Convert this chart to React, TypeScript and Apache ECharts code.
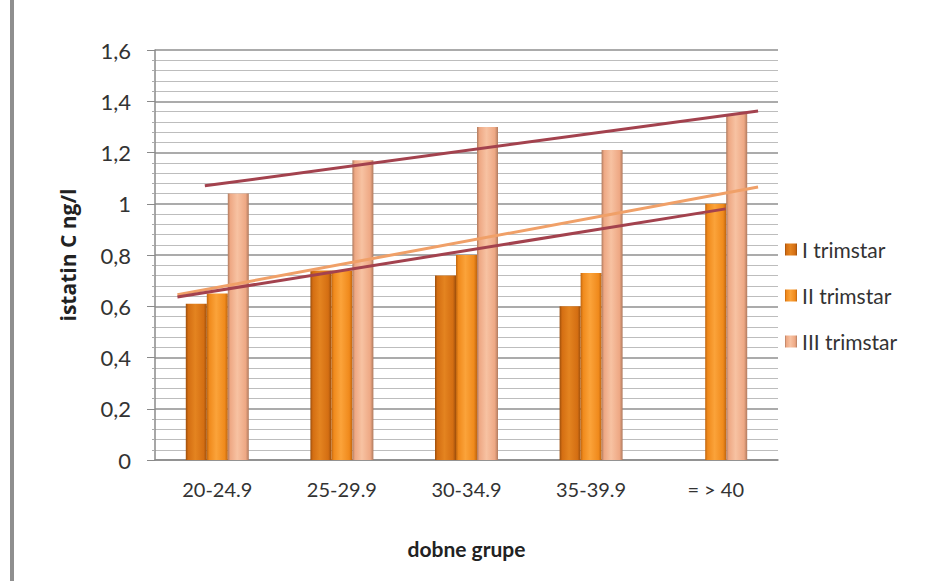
import React, { useEffect, useRef } from "react";
import * as echarts from "echarts";

const categories = ["20-24.9", "25-29.9", "30-34.9", "35-39.9", "= > 40"];
const seriesNames = ["I trimstar", "II trimstar", "III trimstar"];
const trimI = [0.61, 0.74, 0.72, 0.6, null];
const trimII = [0.65, 0.74, 0.8, 0.73, 1.0];
const trimIII = [1.04, 1.17, 1.3, 1.21, 1.35];
// trendline endpoints [category position, value]
const trendIII = [[0.9, 1.07], [5.34, 1.362]];
const trendII = [[0.68, 0.645], [5.34, 1.065]];
const trendI = [[0.68, 0.636], [5.08, 0.98]];
const yTicks = [0, 0.2, 0.4, 0.6, 0.8, 1, 1.2, 1.4, 1.6];

const font = "Lato, 'Open Sans', sans-serif";

function cyl(edge: string, mid: string, light: string) {
  return new echarts.graphic.LinearGradient(0, 0, 1, 0, [
    { offset: 0, color: edge },
    { offset: 0.12, color: mid },
    { offset: 0.45, color: light },
    { offset: 0.85, color: mid },
    { offset: 1, color: edge },
  ]);
}

export default function App() {
  const ref = useRef<HTMLDivElement>(null);
  useEffect(() => {
    document.body.style.margin = "0";
    const chart = echarts.init(ref.current!, undefined, { renderer: "svg" });
    const colI = cyl("#9c4e0c", "#d46e12", "#e48420");
    const colII = cyl("#c0650e", "#f08a1c", "#fba33a");
    const colIII = cyl("#b07a5e", "#eea884", "#f7c2a2");
    chart.setOption({
      animation: false,
      backgroundColor: "#ffffff",
      textStyle: { fontFamily: font },
      graphic: [
        { type: "rect", shape: { x: 10, y: 0, width: 4, height: 581 }, style: { fill: "#8f8f8f" } },
      ],
      grid: { left: 155, right: 152, top: 50, bottom: 121, containLabel: false },
      legend: {
        orient: "vertical",
        left: 780,
        top: 234,
        itemWidth: 12,
        itemHeight: 12,
        itemGap: 25,
        icon: "rect",
        data: seriesNames,
        textStyle: { fontSize: 21, color: "#333", fontFamily: font },
      },
      xAxis: [
        {
          type: "category",
          data: categories,
          axisLine: { lineStyle: { color: "#8a8a8a", width: 1.5 } },
          axisTick: { show: false },
          axisLabel: { fontSize: 20, color: "#333", margin: 19, fontFamily: font },
          name: "dobne grupe",
          nameLocation: "middle",
          nameGap: 78,
          nameTextStyle: { fontSize: 21, fontWeight: "bold", color: "#222", fontFamily: font },
        },
        { type: "value", min: 0.5, max: 5.5, show: false },
      ],
      yAxis: {
        type: "value",
        min: 0,
        max: 1.6,
        interval: 0.2,
        name: "istatin C ng/l",
        nameLocation: "middle",
        nameGap: 77,
        nameTextStyle: { fontSize: 21, fontWeight: "bold", color: "#222", fontFamily: "'Open Sans', sans-serif" },
        axisLine: { show: true, lineStyle: { color: "#8a8a8a", width: 1.5 } },
        axisTick: { show: true, length: 8, lineStyle: { color: "#8a8a8a" } },
        minorTick: { show: true, splitNumber: 5, length: 3, lineStyle: { color: "#aaa" } },
        axisLabel: {
          fontSize: 22,
          color: "#333",
          margin: 24,
          fontFamily: font,
          formatter: (v: number) => {
            const t = yTicks.find((x) => Math.abs(x - v) < 1e-6);
            return String(Number((t ?? v).toFixed(1))).replace(".", ",");
          },
        },
        splitLine: { show: true, lineStyle: { color: "#8f8f8f", width: 1.6 } },
        minorSplitLine: { show: true, lineStyle: { color: "#bdbdbd", width: 1.2 } },
      },
      series: [
        { name: seriesNames[0], type: "bar", data: trimI, barWidth: 21, barGap: "0%", itemStyle: { color: colI } },
        { name: seriesNames[1], type: "bar", data: trimII, barWidth: 21, barGap: "0%", itemStyle: { color: colII } },
        { name: seriesNames[2], type: "bar", data: trimIII, barWidth: 21, barGap: "0%", itemStyle: { color: colIII } },
        {
          type: "line", xAxisIndex: 1, data: trendIII, symbol: "none", silent: true,
          lineStyle: { color: "#a3424e", width: 3 }, z: 5,
        },
        {
          type: "line", xAxisIndex: 1, data: trendII, symbol: "none", silent: true,
          lineStyle: { color: "#f0a068", width: 3 }, z: 5,
        },
        {
          type: "line", xAxisIndex: 1, data: trendI, symbol: "none", silent: true,
          lineStyle: { color: "#a3424e", width: 3 }, z: 5,
        },
      ],
    });
    return () => chart.dispose();
  }, []);
  return <div ref={ref} style={{ width: 930, height: 581 }} />;
}
